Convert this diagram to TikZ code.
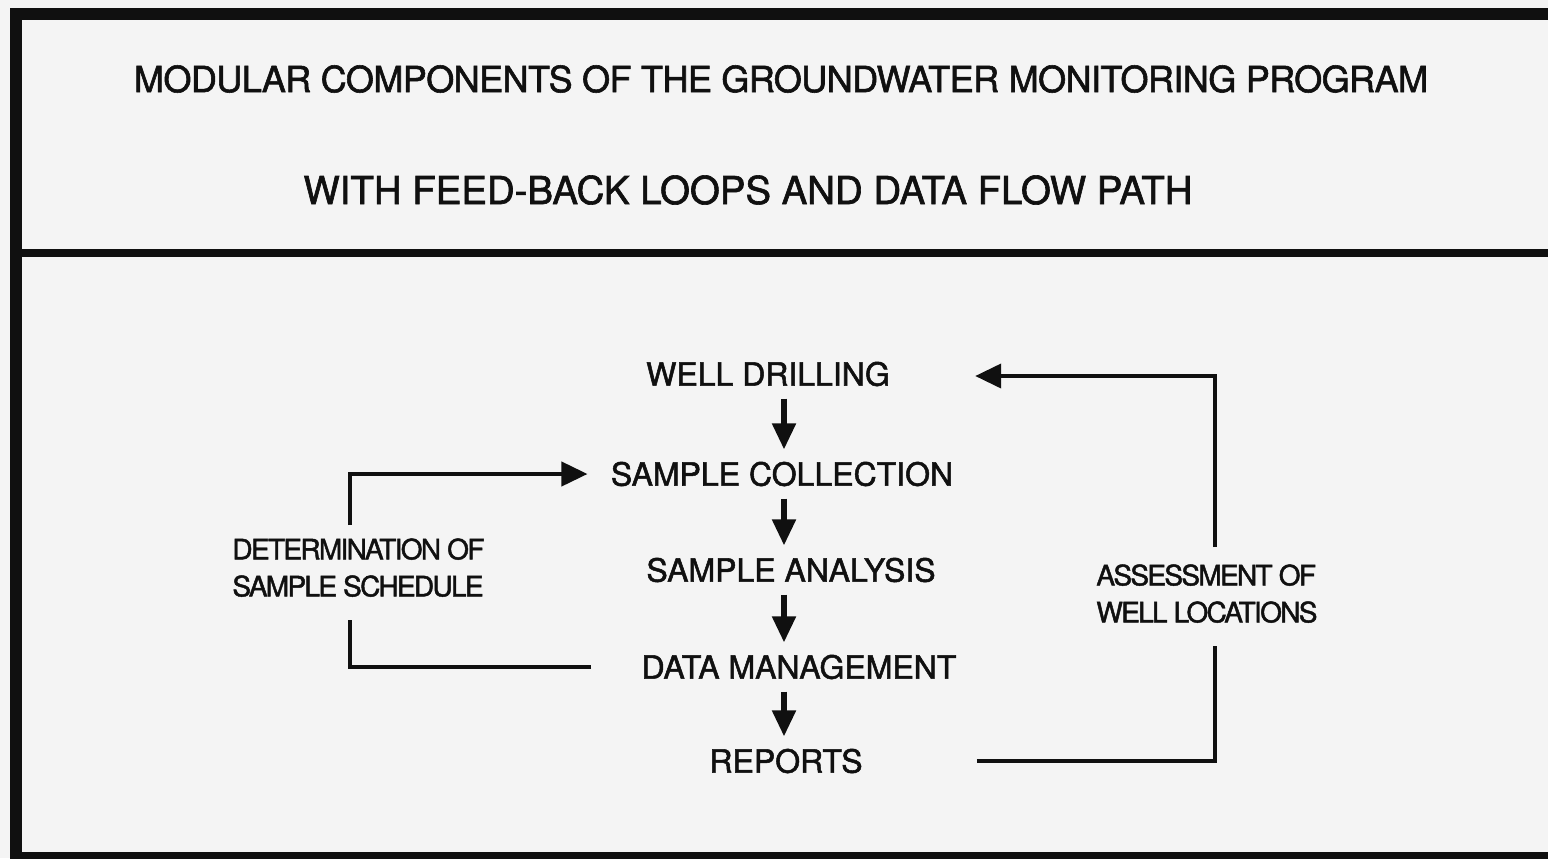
\documentclass[tikz,border=0pt]{standalone}
\usepackage{fontspec}
\setmainfont{TeX Gyre Heros}
\newfontfamily\scanfont{TeX Gyre Heros}[FakeBold=1.6]
\usepackage{tikz}
\usetikzlibrary{arrows.meta,calc}
\definecolor{papergray}{HTML}{F4F4F4}
\definecolor{inkblack}{HTML}{101010}

\begin{document}
\begin{tikzpicture}[
    x=0.5pt,y=-0.5pt,
    heading/.style={font=\scanfont\fontsize{18}{22}\selectfont\addfontfeatures{LetterSpace=-1.5},inner sep=0pt,text=inkblack},
    subheading/.style={font=\scanfont\fontsize{19.2}{22}\selectfont,inner sep=0pt,text=inkblack},
    module/.style={font=\scanfont\fontsize{16}{19}\selectfont,inner sep=0pt,text=inkblack},
    looplabel/.style={font=\scanfont\fontsize{14}{18.5}\selectfont\addfontfeatures{LetterSpace=-6},inner sep=0pt,align=left,text=inkblack},
    frame/.style={draw=inkblack,line width=6pt},
    flow/.style={-{Triangle[length=13pt,width=11.5pt]},line width=2.6pt,draw=inkblack,shorten <=6pt,shorten >=6pt},
    feedback/.style={line width=2pt,draw=inkblack},
    feedarrow/.style={-{Triangle[length=13pt,width=12pt]},line width=2pt,draw=inkblack}
  ]
    \useasboundingbox (0,0) rectangle (1548,858);
    \fill[papergray] (0,0) rectangle (1548,858);

    % outer frame and divider
    \draw[frame] (16,9) -- (16,858);
    \draw[frame] (10,14) -- (1548,14);
    \draw[frame,line width=4pt] (16,253) -- (1548,253);
    \draw[frame,line width=4pt] (10,856) -- (1548,856);

    \node[heading] (t1) at (781,79) {MODULAR COMPONENTS OF THE GROUNDWATER MONITORING PROGRAM};
    \node[subheading] (t2) at (748,190) {WITH FEED-BACK LOOPS AND DATA FLOW PATH};

    % modules
    \coordinate (spine) at (784,0);
    \node[module] (wd) at (768,374) {WELL DRILLING};
    \node[module] (sc) at (782,474) {SAMPLE COLLECTION};
    \node[module] (sa) at (791,570) {SAMPLE ANALYSIS};
    \node[module] (dm) at (799,667) {DATA MANAGEMENT};
    \node[module] (rp) at (786,761) {REPORTS};

    \draw[flow] (wd.south -| spine) -- (sc.north -| spine);
    \draw[flow] (sc.south -| spine) -- (sa.north -| spine);
    \draw[flow] (sa.south -| spine) -- (dm.north -| spine);
    \draw[flow] (dm.south -| spine) -- (rp.north -| spine);

    % feed-back loops
    \node[looplabel,anchor=north west] (ds) at (232,538) {DETERMINATION OF\\SAMPLE SCHEDULE};
    \node[looplabel,anchor=north west] (al) at (1096,564) {ASSESSMENT OF\\WELL LOCATIONS};

    \draw[feedback] ([xshift=-25pt]dm.west) -| ([xshift=-4pt,yshift=-11.5pt]ds.south);
    \draw[feedarrow] ([xshift=-4pt,yshift=6.5pt]ds.north) |- ([xshift=-11.5pt]sc.west);
    \draw[feedback] ([xshift=57pt]rp.east) -| ([xshift=4pt,yshift=-11.5pt]al.south);
    \draw[feedarrow] ([xshift=4pt,yshift=8.5pt]al.north) |- ([xshift=42.5pt,yshift=-1pt]wd.east);
  \end{tikzpicture}
\end{document}
